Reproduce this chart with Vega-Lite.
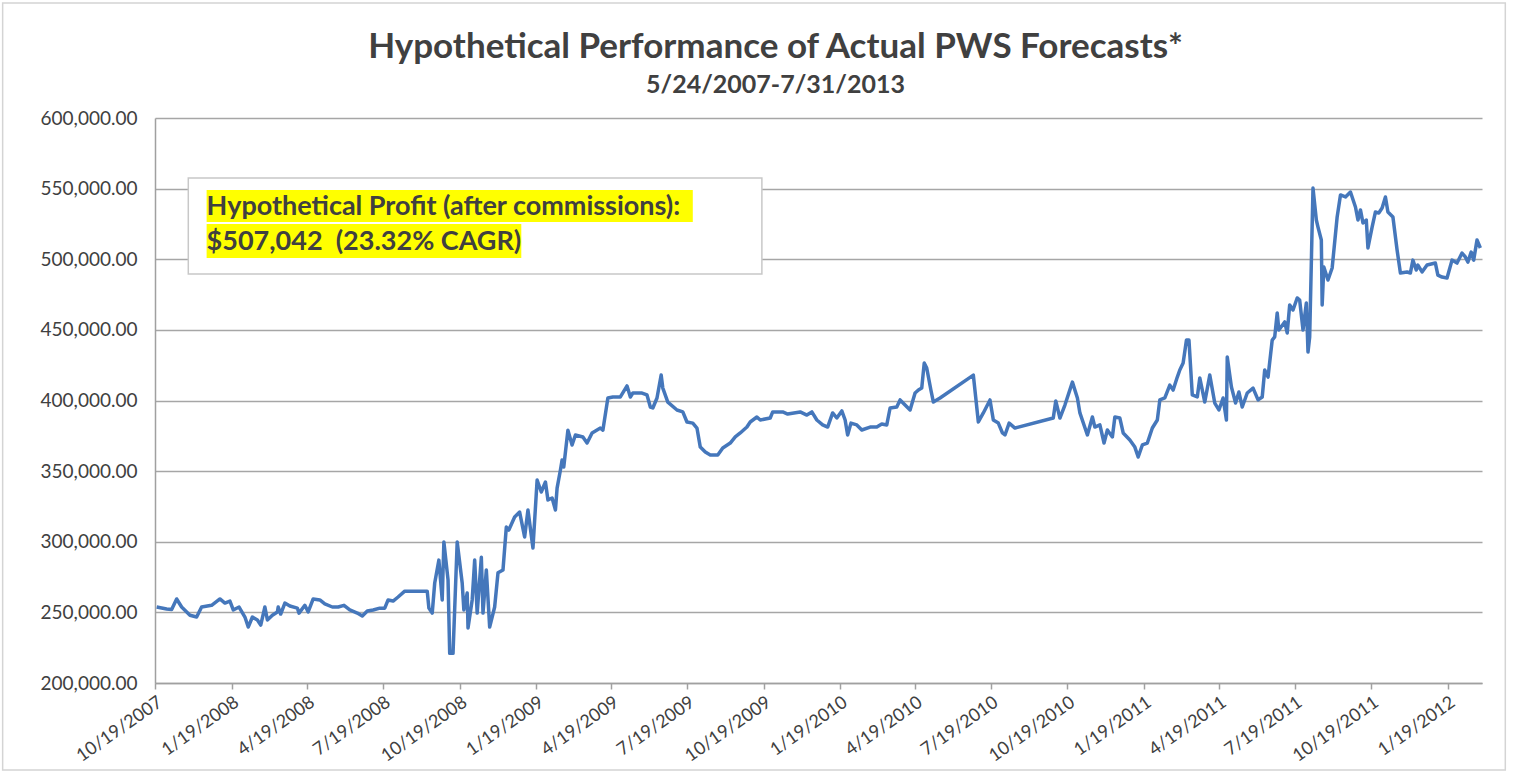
{
  "$schema": "https://vega.github.io/schema/vega-lite/v6.json",
  "width": 1327,
  "height": 565,
  "autosize": {"type": "none"},
  "padding": {"left": 155, "top": 118, "right": 35, "bottom": 90},
  "background": "white",
  "title": {
    "text": "Hypothetical Performance of Actual PWS Forecasts*",
    "subtitle": "5/24/2007-7/31/2013",
    "font": "Lato",
    "fontSize": 35,
    "fontWeight": "bold",
    "color": "#404040",
    "subtitleFont": "Lato",
    "subtitleFontSize": 25,
    "subtitleFontWeight": "bold",
    "subtitleColor": "#404040",
    "subtitlePadding": 8,
    "anchor": "middle",
    "offset": -96,
    "dx": -43
  },
  "config": {
    "view": {"stroke": null},
    "axis": {
      "labelFont": "Lato",
      "labelFontSize": 19,
      "labelColor": "#404040",
      "domainColor": "#a0a0a0",
      "domainWidth": 1.5,
      "gridColor": "#a6a6a6",
      "gridWidth": 1.5,
      "tickColor": "#a0a0a0",
      "tickWidth": 1.5
    }
  },
  "data": {
    "values": [
      {"date": "2007-10-21", "value": 253800},
      {"date": "2007-11-02", "value": 252400},
      {"date": "2007-11-08", "value": 252000},
      {"date": "2007-11-14", "value": 259500},
      {"date": "2007-11-20", "value": 253800},
      {"date": "2007-11-30", "value": 248000},
      {"date": "2007-12-08", "value": 246700},
      {"date": "2007-12-14", "value": 253800},
      {"date": "2007-12-26", "value": 255000},
      {"date": "2008-01-05", "value": 259500},
      {"date": "2008-01-11", "value": 256600},
      {"date": "2008-01-17", "value": 258000},
      {"date": "2008-01-21", "value": 251700},
      {"date": "2008-01-28", "value": 253800},
      {"date": "2008-02-04", "value": 246700},
      {"date": "2008-02-08", "value": 239600},
      {"date": "2008-02-13", "value": 246700},
      {"date": "2008-02-19", "value": 244600},
      {"date": "2008-02-23", "value": 241000},
      {"date": "2008-02-28", "value": 253800},
      {"date": "2008-03-02", "value": 244600},
      {"date": "2008-03-08", "value": 248000},
      {"date": "2008-03-14", "value": 250300},
      {"date": "2008-03-15", "value": 253800},
      {"date": "2008-03-18", "value": 248800},
      {"date": "2008-03-23", "value": 256600},
      {"date": "2008-03-29", "value": 254500},
      {"date": "2008-04-07", "value": 253000},
      {"date": "2008-04-09", "value": 249500},
      {"date": "2008-04-16", "value": 255000},
      {"date": "2008-04-20", "value": 250300},
      {"date": "2008-04-26", "value": 259500},
      {"date": "2008-05-04", "value": 258800},
      {"date": "2008-05-10", "value": 256000},
      {"date": "2008-05-19", "value": 253800},
      {"date": "2008-05-26", "value": 253800},
      {"date": "2008-06-02", "value": 255000},
      {"date": "2008-06-09", "value": 251700},
      {"date": "2008-06-18", "value": 249500},
      {"date": "2008-06-24", "value": 247400},
      {"date": "2008-06-30", "value": 251000},
      {"date": "2008-07-07", "value": 251700},
      {"date": "2008-07-15", "value": 253000},
      {"date": "2008-07-21", "value": 253000},
      {"date": "2008-07-25", "value": 258800},
      {"date": "2008-07-31", "value": 258000},
      {"date": "2008-08-06", "value": 260900},
      {"date": "2008-08-14", "value": 265000},
      {"date": "2008-09-10", "value": 265000},
      {"date": "2008-09-12", "value": 253000},
      {"date": "2008-09-16", "value": 249500},
      {"date": "2008-09-19", "value": 270800},
      {"date": "2008-09-24", "value": 287000},
      {"date": "2008-09-28", "value": 258800},
      {"date": "2008-09-30", "value": 299800},
      {"date": "2008-10-05", "value": 273000},
      {"date": "2008-10-07", "value": 221000},
      {"date": "2008-10-11", "value": 221000},
      {"date": "2008-10-16", "value": 299800},
      {"date": "2008-10-22", "value": 270800},
      {"date": "2008-10-24", "value": 251700},
      {"date": "2008-10-28", "value": 263700},
      {"date": "2008-10-29", "value": 239000},
      {"date": "2008-11-03", "value": 258800},
      {"date": "2008-11-06", "value": 287000},
      {"date": "2008-11-09", "value": 249500},
      {"date": "2008-11-14", "value": 289000},
      {"date": "2008-11-16", "value": 249500},
      {"date": "2008-11-20", "value": 280000},
      {"date": "2008-11-24", "value": 239600},
      {"date": "2008-11-30", "value": 253800},
      {"date": "2008-12-04", "value": 278000},
      {"date": "2008-12-10", "value": 280000},
      {"date": "2008-12-14", "value": 310400},
      {"date": "2008-12-17", "value": 308300},
      {"date": "2008-12-24", "value": 317500},
      {"date": "2008-12-30", "value": 321000},
      {"date": "2009-01-05", "value": 303400},
      {"date": "2009-01-09", "value": 322500},
      {"date": "2009-01-15", "value": 295600},
      {"date": "2009-01-20", "value": 343700},
      {"date": "2009-01-25", "value": 335200},
      {"date": "2009-01-30", "value": 342300},
      {"date": "2009-02-02", "value": 329600},
      {"date": "2009-02-07", "value": 331000},
      {"date": "2009-02-11", "value": 322500},
      {"date": "2009-02-13", "value": 338000},
      {"date": "2009-02-17", "value": 350800},
      {"date": "2009-02-19", "value": 357900},
      {"date": "2009-02-21", "value": 352900},
      {"date": "2009-02-26", "value": 379000},
      {"date": "2009-03-03", "value": 368500},
      {"date": "2009-03-07", "value": 375600},
      {"date": "2009-03-16", "value": 374200},
      {"date": "2009-03-21", "value": 369900},
      {"date": "2009-03-27", "value": 377000},
      {"date": "2009-04-06", "value": 380500},
      {"date": "2009-04-09", "value": 379000},
      {"date": "2009-04-15", "value": 401800},
      {"date": "2009-04-21", "value": 402500},
      {"date": "2009-04-30", "value": 402500},
      {"date": "2009-05-08", "value": 410300},
      {"date": "2009-05-12", "value": 402500},
      {"date": "2009-05-15", "value": 405300},
      {"date": "2009-05-26", "value": 405300},
      {"date": "2009-06-01", "value": 403900},
      {"date": "2009-06-05", "value": 395400},
      {"date": "2009-06-08", "value": 394700},
      {"date": "2009-06-13", "value": 401800},
      {"date": "2009-06-18", "value": 418000},
      {"date": "2009-06-20", "value": 408800},
      {"date": "2009-06-26", "value": 398900},
      {"date": "2009-07-07", "value": 393300},
      {"date": "2009-07-14", "value": 392000},
      {"date": "2009-07-19", "value": 384800},
      {"date": "2009-07-26", "value": 384000},
      {"date": "2009-07-31", "value": 380500},
      {"date": "2009-08-04", "value": 367000},
      {"date": "2009-08-10", "value": 363500},
      {"date": "2009-08-16", "value": 361400},
      {"date": "2009-08-25", "value": 361400},
      {"date": "2009-08-31", "value": 366400},
      {"date": "2009-09-09", "value": 369900},
      {"date": "2009-09-15", "value": 374200},
      {"date": "2009-09-21", "value": 377000},
      {"date": "2009-09-29", "value": 381200},
      {"date": "2009-10-03", "value": 384800},
      {"date": "2009-10-11", "value": 388300},
      {"date": "2009-10-15", "value": 386200},
      {"date": "2009-10-27", "value": 387600},
      {"date": "2009-10-30", "value": 391900},
      {"date": "2009-11-11", "value": 391900},
      {"date": "2009-11-17", "value": 390400},
      {"date": "2009-12-02", "value": 391900},
      {"date": "2009-12-10", "value": 389700},
      {"date": "2009-12-16", "value": 391900},
      {"date": "2009-12-22", "value": 386200},
      {"date": "2009-12-29", "value": 382700},
      {"date": "2010-01-04", "value": 381200},
      {"date": "2010-01-10", "value": 391200},
      {"date": "2010-01-15", "value": 387600},
      {"date": "2010-01-21", "value": 392600},
      {"date": "2010-01-25", "value": 386200},
      {"date": "2010-01-28", "value": 375600},
      {"date": "2010-02-01", "value": 384000},
      {"date": "2010-02-08", "value": 382700},
      {"date": "2010-02-14", "value": 379100},
      {"date": "2010-02-24", "value": 381200},
      {"date": "2010-03-04", "value": 381200},
      {"date": "2010-03-10", "value": 383400},
      {"date": "2010-03-16", "value": 382700},
      {"date": "2010-03-20", "value": 394700},
      {"date": "2010-03-28", "value": 395400},
      {"date": "2010-04-01", "value": 400400},
      {"date": "2010-04-07", "value": 396800},
      {"date": "2010-04-13", "value": 393300},
      {"date": "2010-04-19", "value": 405300},
      {"date": "2010-04-23", "value": 407400},
      {"date": "2010-04-27", "value": 408800},
      {"date": "2010-04-30", "value": 426500},
      {"date": "2010-05-03", "value": 423000},
      {"date": "2010-05-08", "value": 407400},
      {"date": "2010-05-11", "value": 398900},
      {"date": "2010-05-19", "value": 401800},
      {"date": "2010-06-28", "value": 418000},
      {"date": "2010-07-04", "value": 384800},
      {"date": "2010-07-10", "value": 391200},
      {"date": "2010-07-18", "value": 400400},
      {"date": "2010-07-22", "value": 386200},
      {"date": "2010-07-28", "value": 384000},
      {"date": "2010-08-02", "value": 377000},
      {"date": "2010-08-05", "value": 375600},
      {"date": "2010-08-10", "value": 384000},
      {"date": "2010-08-17", "value": 380500},
      {"date": "2010-10-02", "value": 387600},
      {"date": "2010-10-05", "value": 399700},
      {"date": "2010-10-10", "value": 387600},
      {"date": "2010-10-16", "value": 396800},
      {"date": "2010-10-25", "value": 413000},
      {"date": "2010-10-31", "value": 401800},
      {"date": "2010-11-03", "value": 391200},
      {"date": "2010-11-12", "value": 375600},
      {"date": "2010-11-18", "value": 388300},
      {"date": "2010-11-21", "value": 381200},
      {"date": "2010-11-27", "value": 382700},
      {"date": "2010-12-02", "value": 369900},
      {"date": "2010-12-06", "value": 379100},
      {"date": "2010-12-12", "value": 374200},
      {"date": "2010-12-15", "value": 388300},
      {"date": "2010-12-21", "value": 387600},
      {"date": "2010-12-25", "value": 377000},
      {"date": "2011-01-02", "value": 372000},
      {"date": "2011-01-08", "value": 367000},
      {"date": "2011-01-12", "value": 360000},
      {"date": "2011-01-17", "value": 368500},
      {"date": "2011-01-23", "value": 369900},
      {"date": "2011-01-29", "value": 380500},
      {"date": "2011-02-04", "value": 386200},
      {"date": "2011-02-07", "value": 400400},
      {"date": "2011-02-13", "value": 401800},
      {"date": "2011-02-19", "value": 410900},
      {"date": "2011-02-23", "value": 407400},
      {"date": "2011-02-28", "value": 416600},
      {"date": "2011-03-03", "value": 421600},
      {"date": "2011-03-07", "value": 426500},
      {"date": "2011-03-11", "value": 442800},
      {"date": "2011-03-14", "value": 442800},
      {"date": "2011-03-18", "value": 403900},
      {"date": "2011-03-24", "value": 402500},
      {"date": "2011-03-27", "value": 416000},
      {"date": "2011-04-02", "value": 398900},
      {"date": "2011-04-08", "value": 418000},
      {"date": "2011-04-14", "value": 398200},
      {"date": "2011-04-19", "value": 393300},
      {"date": "2011-04-24", "value": 401800},
      {"date": "2011-04-28", "value": 386200},
      {"date": "2011-04-29", "value": 430800},
      {"date": "2011-05-04", "value": 409600},
      {"date": "2011-05-09", "value": 398200},
      {"date": "2011-05-13", "value": 406000},
      {"date": "2011-05-17", "value": 395400},
      {"date": "2011-05-23", "value": 405300},
      {"date": "2011-05-30", "value": 408800},
      {"date": "2011-06-05", "value": 400400},
      {"date": "2011-06-10", "value": 402500},
      {"date": "2011-06-13", "value": 421600},
      {"date": "2011-06-17", "value": 416600},
      {"date": "2011-06-22", "value": 442800},
      {"date": "2011-06-25", "value": 445000},
      {"date": "2011-06-28", "value": 462000},
      {"date": "2011-06-30", "value": 449900},
      {"date": "2011-07-07", "value": 455600},
      {"date": "2011-07-10", "value": 447800},
      {"date": "2011-07-13", "value": 467600},
      {"date": "2011-07-17", "value": 464100},
      {"date": "2011-07-22", "value": 472600},
      {"date": "2011-07-25", "value": 471100},
      {"date": "2011-07-29", "value": 449900},
      {"date": "2011-08-02", "value": 469000},
      {"date": "2011-08-04", "value": 434300},
      {"date": "2011-08-06", "value": 445000},
      {"date": "2011-08-10", "value": 550400},
      {"date": "2011-08-14", "value": 527800},
      {"date": "2011-08-16", "value": 522800},
      {"date": "2011-08-20", "value": 513600},
      {"date": "2011-08-21", "value": 467600},
      {"date": "2011-08-23", "value": 494500},
      {"date": "2011-08-28", "value": 485300},
      {"date": "2011-09-02", "value": 493800},
      {"date": "2011-09-08", "value": 529900},
      {"date": "2011-09-12", "value": 545500},
      {"date": "2011-09-18", "value": 544100},
      {"date": "2011-09-24", "value": 547600},
      {"date": "2011-09-30", "value": 537000},
      {"date": "2011-10-03", "value": 527800},
      {"date": "2011-10-06", "value": 534900},
      {"date": "2011-10-09", "value": 525700},
      {"date": "2011-10-13", "value": 527800},
      {"date": "2011-10-15", "value": 508000},
      {"date": "2011-10-20", "value": 522800},
      {"date": "2011-10-24", "value": 533500},
      {"date": "2011-10-28", "value": 532700},
      {"date": "2011-11-01", "value": 536300},
      {"date": "2011-11-05", "value": 544100},
      {"date": "2011-11-08", "value": 533500},
      {"date": "2011-11-14", "value": 529900},
      {"date": "2011-11-19", "value": 506500},
      {"date": "2011-11-23", "value": 490300},
      {"date": "2011-12-01", "value": 491000},
      {"date": "2011-12-05", "value": 490300},
      {"date": "2011-12-08", "value": 499400},
      {"date": "2011-12-12", "value": 492400},
      {"date": "2011-12-14", "value": 495900},
      {"date": "2011-12-19", "value": 491000},
      {"date": "2011-12-25", "value": 495900},
      {"date": "2012-01-04", "value": 497300},
      {"date": "2012-01-07", "value": 488800},
      {"date": "2012-01-12", "value": 487400},
      {"date": "2012-01-18", "value": 486700},
      {"date": "2012-01-24", "value": 499400},
      {"date": "2012-01-30", "value": 497300},
      {"date": "2012-02-05", "value": 504400},
      {"date": "2012-02-09", "value": 501600},
      {"date": "2012-02-12", "value": 498000},
      {"date": "2012-02-16", "value": 505100},
      {"date": "2012-02-19", "value": 499400},
      {"date": "2012-02-23", "value": 513600},
      {"date": "2012-02-27", "value": 508000}
    ]
  },
  "layer": [
    {
      "mark": {"type": "line", "color": "#4577BB", "strokeWidth": 3.5, "strokeJoin": "round"},
      "encoding": {
        "x": {
          "field": "date",
          "type": "temporal",
          "title": null,
          "scale": {
            "type": "utc",
            "domain": [
              {"year": 2007, "month": 10, "date": 19, "utc": true},
              {"year": 2012, "month": 2, "date": 29, "utc": true}
            ]
          },
          "axis": {
            "values": [
              {"year": 2007, "month": 10, "date": 19, "utc": true},
              {"year": 2008, "month": 1, "date": 19, "utc": true},
              {"year": 2008, "month": 4, "date": 19, "utc": true},
              {"year": 2008, "month": 7, "date": 19, "utc": true},
              {"year": 2008, "month": 10, "date": 19, "utc": true},
              {"year": 2009, "month": 1, "date": 19, "utc": true},
              {"year": 2009, "month": 4, "date": 19, "utc": true},
              {"year": 2009, "month": 7, "date": 19, "utc": true},
              {"year": 2009, "month": 10, "date": 19, "utc": true},
              {"year": 2010, "month": 1, "date": 19, "utc": true},
              {"year": 2010, "month": 4, "date": 19, "utc": true},
              {"year": 2010, "month": 7, "date": 19, "utc": true},
              {"year": 2010, "month": 10, "date": 19, "utc": true},
              {"year": 2011, "month": 1, "date": 19, "utc": true},
              {"year": 2011, "month": 4, "date": 19, "utc": true},
              {"year": 2011, "month": 7, "date": 19, "utc": true},
              {"year": 2011, "month": 10, "date": 19, "utc": true},
              {"year": 2012, "month": 1, "date": 19, "utc": true}
            ],
            "format": "%-m/%-d/%Y",
            "labelAngle": -35,
            "labelAlign": "right",
            "labelBaseline": "top",
            "labelOverlap": false,
            "labelFontSize": 18,
            "labelPadding": 4,
            "tickSize": 6,
            "grid": false,
            "title": null
          }
        },
        "y": {
          "field": "value",
          "type": "quantitative",
          "title": null,
          "scale": {"domain": [200000, 600000], "nice": false, "zero": false},
          "axis": {
            "values": [200000, 250000, 300000, 350000, 400000, 450000, 500000, 550000, 600000],
            "format": ",.2f",
            "ticks": false,
            "labelPadding": 18,
            "grid": true,
            "title": null
          }
        }
      }
    },
    {
      "data": {"values": [{}]},
      "mark": {"type": "rect", "fill": null, "filled": false, "stroke": "#d4d4d4", "strokeWidth": 1.5},
      "encoding": {
        "x": {"datum": {"year": 2007, "month": 4, "date": 19, "utc": true}, "type": "temporal", "title": null},
        "x2": {"datum": {"year": 2012, "month": 3, "date": 28, "utc": true}},
        "y": {"datum": 681400, "type": "quantitative", "title": null},
        "y2": {"datum": 138400}
      }
    },
    {
      "data": {"values": [{}]},
      "mark": {"type": "rect", "fill": "white", "stroke": "#c8c8c8", "strokeWidth": 1.5},
      "encoding": {
        "x": {"datum": {"year": 2007, "month": 11, "date": 28, "utc": true}, "type": "temporal", "title": null},
        "x2": {"datum": {"year": 2009, "month": 10, "date": 17, "utc": true}},
        "y": {"datum": 557500, "type": "quantitative", "title": null},
        "y2": {"datum": 489600}
      }
    },
    {
      "data": {"values": [{}]},
      "mark": {"type": "rect", "fill": "#FFFF00"},
      "encoding": {
        "x": {"datum": {"year": 2007, "month": 12, "date": 20, "utc": true}, "type": "temporal", "title": null},
        "x2": {"datum": {"year": 2009, "month": 7, "date": 26, "utc": true}},
        "y": {"datum": 549000, "type": "quantitative", "title": null},
        "y2": {"datum": 526400}
      }
    },
    {
      "data": {"values": [{}]},
      "mark": {"type": "rect", "fill": "#FFFF00"},
      "encoding": {
        "x": {"datum": {"year": 2007, "month": 12, "date": 20, "utc": true}, "type": "temporal", "title": null},
        "x2": {"datum": {"year": 2009, "month": 1, "date": 1, "utc": true}},
        "y": {"datum": 525000, "type": "quantitative", "title": null},
        "y2": {"datum": 500900}
      }
    },
    {
      "data": {"values": [{}]},
      "mark": {"type": "text", "text": "Hypothetical Profit (after commissions):", "align": "left", "baseline": "alphabetic", "font": "Lato", "fontSize": 27, "fontWeight": "bold", "color": "#404040"},
      "encoding": {
        "x": {"datum": {"year": 2007, "month": 12, "date": 20, "utc": true}, "type": "temporal", "title": null},
        "y": {"datum": 531300, "type": "quantitative", "title": null}
      }
    },
    {
      "data": {"values": [{}]},
      "mark": {"type": "text", "text": "$507,042\u00a0 (23.32% CAGR)", "align": "left", "baseline": "alphabetic", "font": "Lato", "fontSize": 27, "fontWeight": "bold", "color": "#404040"},
      "encoding": {
        "x": {"datum": {"year": 2007, "month": 12, "date": 20, "utc": true}, "type": "temporal", "title": null},
        "y": {"datum": 506500, "type": "quantitative", "title": null}
      }
    }
  ]
}
